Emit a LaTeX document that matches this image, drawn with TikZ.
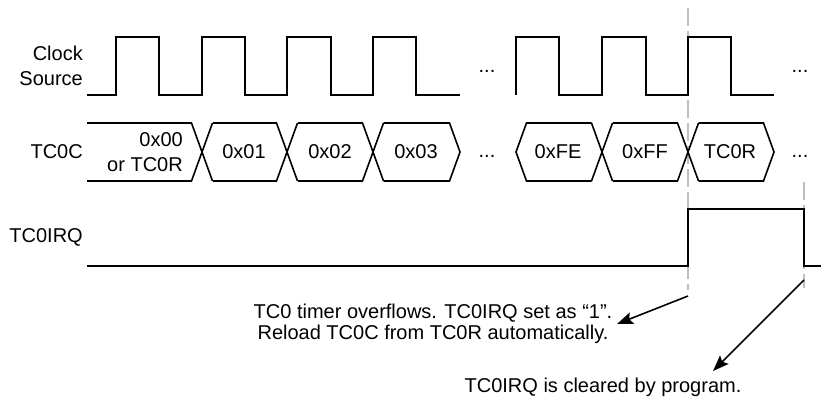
\documentclass[tikz,border=0pt]{standalone}
\usepackage{fontspec}
\setmainfont{Liberation Sans}
\usetikzlibrary{arrows.meta}
\begin{document}
\begin{tikzpicture}[x=1pt,y=-1pt,
  sig/.style={line width=1.6pt,line join=miter,black},
  guide/.style={line width=1.6pt,draw=black!25,dash pattern=on 18pt off 5pt},
  lbl/.style={font=\fontsize{20}{25}\selectfont,inner sep=0pt,align=right},
  val/.style={font=\fontsize{20}{25}\selectfont,inner sep=0pt},
  note/.style={font=\fontsize{20}{21}\selectfont,inner sep=0pt,align=center},
  pointer/.style={line width=1.6pt,-{Stealth[length=16pt,width=12pt,inset=3pt]}}]
\useasboundingbox (0,0) rectangle (821,399);
% guide lines
\draw[guide] (688,8) -- (688,290);
\draw[guide] (804,182) -- (804,288);
% labels
\node[lbl,anchor=east] (clk) at (83,65.5) {Clock\\Source};
\node[lbl,anchor=east] (tc0c) at (83,152) {TC0C};
\node[lbl,anchor=east] (irq) at (83,237) {TC0IRQ};
% clock
\draw[sig] (87,95) -- (116,95) -- (116,37) -- (159,37) -- (159,95) -- (202,95) -- (202,37) -- (245,37) -- (245,95) -- (287,95) -- (287,37) -- (331,37) -- (331,95) -- (373,95) -- (373,37) -- (416,37) -- (416,95) -- (460,95);
\draw[sig] (516,95) -- (516,37) -- (559,37) -- (559,95) -- (602,95) -- (602,37) -- (646,37) -- (646,95) -- (688,95) -- (688,37) -- (731,37) -- (731,95) -- (774,95);
\node[val,anchor=base] (cd1) at (487,72) {...};
\node[val,anchor=base] (cd2) at (800,72) {...};
% bus
\draw[sig] (87,123) -- (191.5,123);
\draw[sig] (87,181) -- (191.5,181);
\foreach \c in {202,287,373,602,688}{
  \draw[sig] (\c-10.5,123) -- (\c+10.5,181);
  \draw[sig] (\c-10.5,181) -- (\c+10.5,123);
}
\draw[sig] (212.5,123) -- (276.5,123) (212.5,181) -- (276.5,181);
\draw[sig] (297.5,123) -- (362.5,123) (297.5,181) -- (362.5,181);
\draw[sig] (383.5,181) -- (449.5,181) -- (460,152) -- (449.5,123) -- (383.5,123);
\draw[sig] (591.5,123) -- (526.5,123) -- (516,152) -- (526.5,181) -- (591.5,181);
\draw[sig] (612.5,123) -- (677.5,123) (612.5,181) -- (677.5,181);
\draw[sig] (698.5,181) -- (763.5,181) -- (774,152) -- (763.5,123) -- (698.5,123);
\node[lbl,anchor=east] (v0) at (183,152.5) {0x00\\or TC0R};
\node[val] (v1) at (244,152) {0x01};
\node[val] (v2) at (330,152) {0x02};
\node[val] (v3) at (416,152) {0x03};
\node[val] (vfe) at (558,152) {0xFE};
\node[val] (vff) at (645,152) {0xFF};
\node[val] (vr) at (730,152) {TC0R};
\node[val,anchor=base] (bd1) at (487,157) {...};
\node[val,anchor=base] (bd2) at (800,157) {...};
% irq
\draw[sig] (87,266) -- (688,266) -- (688,209) -- (804,209) -- (804,266) -- (821,266);
% notes
\node[note] (n1) at (433,323.5) {TC0 timer overflows. TC0IRQ set as “1”.\\Reload TC0C from TC0R automatically.};
\node[note] (n2) at (603,387) {TC0IRQ is cleared by program.};
\coordinate (a1s) at (688,296);
\coordinate (a1e) at (617,324);
\coordinate (a2s) at (804,280);
\coordinate (a2e) at (713,371);
\draw[pointer] (a1s) -- (a1e);
\draw[pointer] (a2s) -- (a2e);
\end{tikzpicture}
\end{document}
